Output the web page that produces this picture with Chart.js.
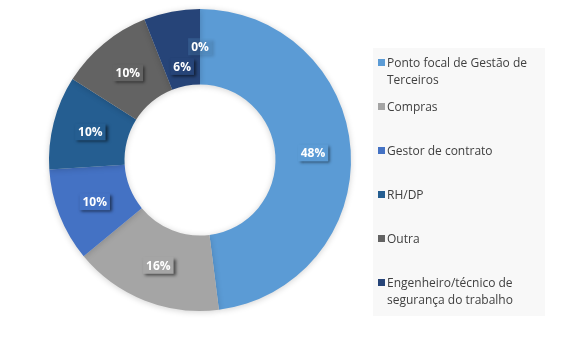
<!DOCTYPE html>
<html>
<head>
<meta charset="utf-8">
<script src="https://cdn.jsdelivr.net/npm/chart.js@4/dist/chart.umd.min.js"></script>
<style>
  html, body { margin: 0; padding: 0; background: #fff; }
  #wrap { position: relative; width: 569px; height: 340px; }
  #legend {
    position: absolute; left: 373px; top: 48px; width: 172px; height: 268px;
    background: #f8f8f8; font-family: "Open Sans", "Noto Sans", sans-serif;
    font-size: 12px; color: #404040;
  }
  .leg-item { position: absolute; left: 3px; width: 166px; line-height: 17px; padding-left: 11px; }
  .leg-box { position: absolute; left: 2px; top: 5px; width: 7px; height: 7px; }
</style>
</head>
<body>
<div id="wrap">
  <canvas id="chart" width="569" height="340"></canvas>
  <div id="legend"></div>
</div>
<script>
const labels = ['Ponto focal de Gestão de Terceiros', 'Compras', 'Gestor de contrato', 'RH/DP', 'Outra',
  'Engenheiro/técnico de segurança do trabalho', ''];
const values = [48, 16, 10, 10, 10, 6, 0];
const colors = ['#5b9bd5', '#a5a5a5', '#4472c4', '#255e91', '#636363', '#264478', 'rgba(91,155,213,0.25)'];

// legend (only named categories), each slot 44px tall
const $legend = document.getElementById('legend');
labels.forEach((lab, i) => {
  if (!lab) return;
  const item = document.createElement('div');
  item.className = 'leg-item';
  item.style.top = (6 + i * 44) + 'px';
  item.innerHTML = `<span class="leg-box" style="background:${colors[i]}"></span>${lab}`;
  $legend.appendChild(item);
});

// data labels in a coloured box with drop shadow
const labelBoxes = {
  id: 'labelBoxes',
  afterDatasetsDraw(chart) {
    const ctx = chart.ctx;
    const meta = chart.getDatasetMeta(0);
    ctx.save();
    ctx.font = 'bold 12px "Open Sans", "Noto Sans", sans-serif';
    ctx.textAlign = 'center';
    ctx.textBaseline = 'middle';
    meta.data.forEach((arc, i) => {
      const mid = (arc.startAngle + arc.endAngle) / 2;
      let r = (arc.innerRadius + arc.outerRadius) / 2;
      if (i === 5) r -= 18; // pushed in so it doesn't sit on the 0% label
      const x = arc.x + Math.cos(mid) * r;
      const y = arc.y + Math.sin(mid) * r;
      const txt = values[i] + '%';
      const w = ctx.measureText(txt).width + 6;
      const h = 17;
      ctx.shadowColor = 'rgba(0,0,0,0.55)';
      ctx.shadowOffsetX = 2;
      ctx.shadowOffsetY = 2;
      ctx.shadowBlur = 3;
      ctx.fillStyle = colors[i];
      ctx.fillRect(x - w / 2, y - h / 2, w, h);
      ctx.shadowColor = 'transparent';
      ctx.fillStyle = '#fff';
      ctx.fillText(txt, x, y + 1);
    });
    ctx.restore();
  }
};

// soft shadow round the ring
const ringShadow = {
  id: 'ringShadow',
  beforeDatasetsDraw(chart) {
    const ctx = chart.ctx;
    ctx.save();
    ctx.shadowColor = 'rgba(0,0,0,0.18)';
    ctx.shadowBlur = 6;
    ctx.shadowOffsetY = 1;
  },
  afterDatasetsDraw(chart) {
    chart.ctx.restore();
  }
};

new Chart(document.getElementById('chart').getContext('2d'), {
  type: 'doughnut',
  data: {
    labels: labels,
    datasets: [{ data: values, backgroundColor: colors, borderWidth: 0 }]
  },
  options: {
    responsive: false,
    animation: false,
    cutout: '50%',
    layout: { padding: { left: 49, right: 218, top: 9, bottom: 29 } },
    plugins: { legend: { display: false }, tooltip: { enabled: false } }
  },
  plugins: [ringShadow, labelBoxes]
});
</script>
</body>
</html>
